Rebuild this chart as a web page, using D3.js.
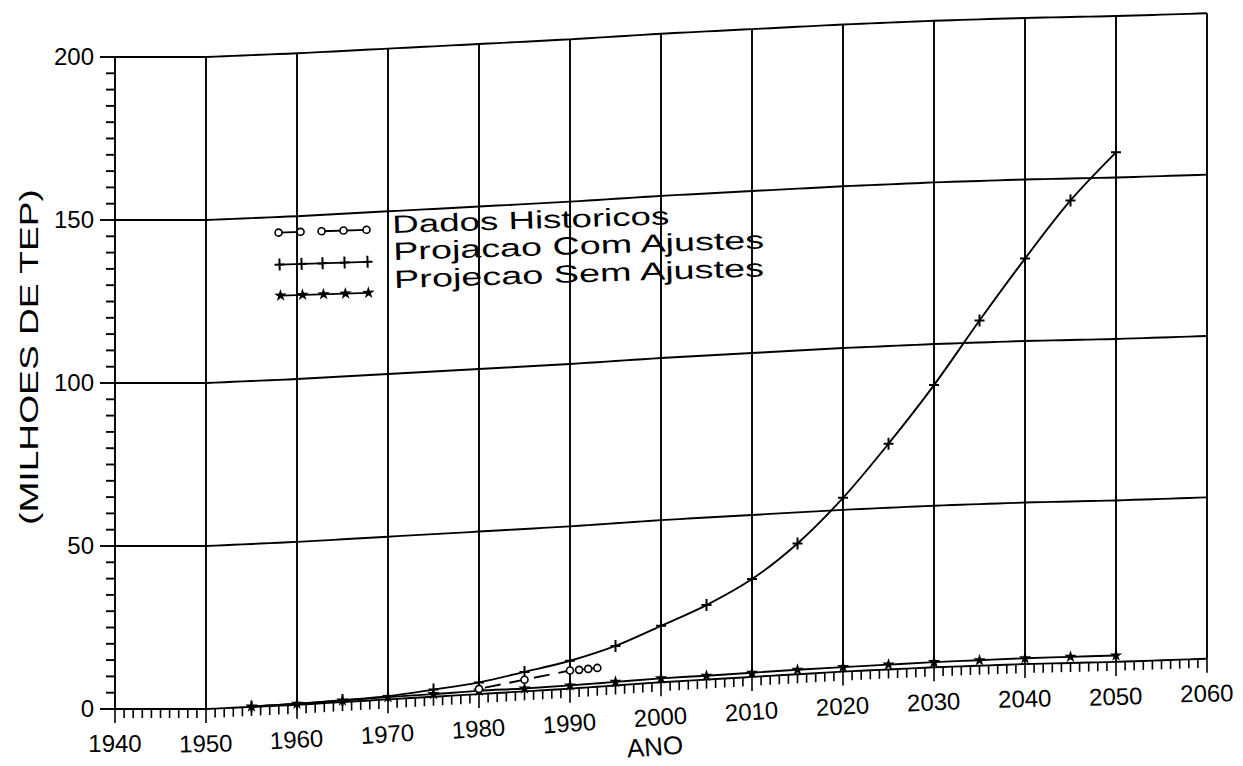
<!DOCTYPE html>
<html>
<head>
<meta charset="utf-8">
<script src="https://cdn.jsdelivr.net/npm/d3@7"></script>
<style>
body { margin: 0; background: #fff; }
svg { display: block; }
text { font-family: "Liberation Sans", Arial, sans-serif; fill: #000; }
</style>
</head>
<body>
<svg id="chart" width="1243" height="766"></svg>
<script>

//values
var years = [1955, 1960, 1965, 1970, 1975, 1980, 1985, 1990, 1995, 2000,
	2005, 2010, 2015, 2020, 2025, 2030, 2035, 2040, 2045, 2050];
var comAjustes = [0.1, 0.3, 0.6, 1.0, 2.2, 3.6, 6.0, 8.6, 12.2, 17.4,
	23.0, 30.2, 40.4, 53.7, 69.8, 87.3, 106.8, 125.5, 143.2, 157.8];
var semAjustes = [0.1, 0.3, 0.5, 0.7, 0.8, 1.0, 0.9, 1.0, 1.1, 1.2,
	1.2, 1.3, 1.4, 1.4, 1.5, 1.6, 1.7, 1.8, 1.9, 2.0];
var histYears = [1980, 1985, 1990, 1991, 1992, 1993];
var histValues = [1.6, 3.6, 5.6, 5.6, 5.7, 5.8];

var xTicks = [1940, 1950, 1960, 1970, 1980, 1990, 2000, 2010, 2020, 2030, 2040, 2050, 2060];
var yTicks = [0, 50, 100, 150, 200];
var legendLabels = ["Dados Historicos", "Projacao Com Ajustes", "Projecao Sem Ajustes"];

var svg = d3.select("#chart");

var x = d3.scaleLinear().domain([1940, 2060]).range([115, 1207]);
var y = d3.scaleLinear().domain([0, 200]).range([709, 57]);

//the scanned page is not square, horizontal lines drift upward to the right
//(a bit more at the bottom than at the top)
var tilt = d3.scaleLinear()
	.domain([115, 206, 298, 388, 480, 570, 661, 752, 844, 935, 1025, 1115, 1207])
	.range([0, 0, -4, -9, -14, -19, -25, -30, -35, -39, -42, -44, -47])
	.clamp(true);
var squeeze = d3.scaleLinear().domain([0, 200]).range([1.07, 0.93]);

function px(yr) { return x(yr); }
function py(yr, v) { return y(v) + tilt(x(yr)) * squeeze(v); }
function angle(yr, v) {
	var a = x(yr);
	return Math.atan2((tilt(a + 6) - tilt(a - 6)) * squeeze(v), 12) * 180 / Math.PI;
}

var line = d3.line()
	.x(function (d) { return px(d[0]); })
	.y(function (d) { return py(d[0], d[1]); });

var g = svg.append("g")
	.attr("fill", "none")
	.attr("stroke", "#000")
	.attr("stroke-width", 1.9);

//horizontal grid lines (0 is the axis, 200 the top border)
var fine = d3.range(1940, 2061, 1);
yTicks.forEach(function (v) {
	g.append("path")
		.attr("d", line(fine.map(function (yr) { return [yr, v]; })));
});

//vertical grid lines, the 1940 one is the y axis and 2060 the right border
xTicks.forEach(function (yr) {
	g.append("path").attr("d", line([[yr, 0], [yr, 200]]));
});

//y axis ticks
d3.range(0, 201, 5).forEach(function (v) {
	var len = v % 50 == 0 ? 15 : 9;
	g.append("line")
		.attr("x1", x(1940) - len).attr("x2", x(1940))
		.attr("y1", y(v)).attr("y2", y(v));
});

//x axis ticks, one per year hanging under the axis
d3.range(1940, 2061, 1).forEach(function (yr) {
	var len = yr % 10 == 0 ? 14 : 9;
	var y0 = py(yr, 0);
	g.append("line")
		.attr("x1", px(yr)).attr("x2", px(yr))
		.attr("y1", y0).attr("y2", y0 + len)
		.attr("stroke-width", 1.6);
});

//tick labels
svg.selectAll(".ylab")
	.data(yTicks)
	.enter()
	.append("text")
	.attr("class", "ylab")
	.attr("x", 94)
	.attr("y", function (d) { return y(d) + 8; })
	.attr("text-anchor", "end")
	.style("font-size", "24px")
	.text(function (d) { return d; });

svg.selectAll(".xlab")
	.data(xTicks)
	.enter()
	.append("text")
	.attr("class", "xlab")
	.attr("text-anchor", "middle")
	.attr("transform", function (d) {
		return "translate(" + px(d) + "," + (py(d, 0) + 43) + ") rotate(" + angle(d, 0) + ")";
	})
	.style("font-size", "24px")
	.text(function (d) { return d; });

//axis titles
svg.append("text")
	.attr("text-anchor", "middle")
	.attr("transform", "translate(" + (x(1999.4)) + "," + (py(1999.4, 0) + 73) + ") rotate(" + angle(1999.4, 0) + ")")
	.style("font-size", "26px")
	.text("ANO");

svg.append("text")
	.attr("text-anchor", "middle")
	.attr("transform", "translate(38,357) rotate(-90)")
	.attr("textLength", 336)
	.attr("lengthAdjust", "spacingAndGlyphs")
	.style("font-size", "26px")
	.text("(MILHOES DE TEP)");

//series
var comData = years.map(function (yr, i) { return [yr, comAjustes[i]]; });
var semData = years.map(function (yr, i) { return [yr, semAjustes[i]]; });
var histData = histYears.map(function (yr, i) { return [yr, histValues[i]]; });

var smooth = d3.line()
	.x(function (d) { return px(d[0]); })
	.y(function (d) { return py(d[0], d[1]); })
	.curve(d3.curveCatmullRom);

g.append("path").attr("d", smooth(semData));
g.append("path").attr("d", smooth(comData));
g.append("path")
	.attr("d", line(histData))
	.attr("stroke-dasharray", "16,9")
	.attr("stroke-dashoffset", -6);

var plus = "M-5,0H5M0,-6V6";
var star = d3.symbol().type(d3.symbolStar).size(48)();

svg.selectAll(".com")
	.data(comData)
	.enter()
	.append("path")
	.attr("class", "com")
	.attr("d", plus)
	.attr("transform", function (d) { return "translate(" + px(d[0]) + "," + py(d[0], d[1]) + ")"; })
	.attr("stroke", "#000")
	.attr("stroke-width", 2);

svg.selectAll(".sem")
	.data(semData)
	.enter()
	.append("path")
	.attr("class", "sem")
	.attr("d", star)
	.attr("transform", function (d) { return "translate(" + px(d[0]) + "," + py(d[0], d[1]) + ")"; })
	.attr("fill", "#000");

svg.selectAll(".hist")
	.data(histData)
	.enter()
	.append("circle")
	.attr("class", "hist")
	.attr("cx", function (d) { return px(d[0]); })
	.attr("cy", function (d) { return py(d[0], d[1]); })
	.attr("r", 3.5)
	.attr("fill", "#fff")
	.attr("stroke", "#000")
	.attr("stroke-width", 1.6);

//legend, slightly tilted like the rest of the scan
var legend = svg.append("g")
	.attr("transform", "rotate(-1.8,393,245)");

var sampleX = [279, 301, 322, 344, 367];
var sampleY = [229, 261, 292];
var baseY = [233, 260, 288];
var textLen = [277, 371, 370];

legend.selectAll(".ltext")
	.data(legendLabels)
	.enter()
	.append("text")
	.attr("x", 393)
	.attr("y", function (d, i) { return baseY[i]; })
	.attr("textLength", function (d, i) { return textLen[i]; })
	.attr("lengthAdjust", "spacingAndGlyphs")
	.style("font-size", "25px")
	.text(function (d) { return d; });

legend.append("line")
	.attr("x1", sampleX[0]).attr("x2", sampleX[4])
	.attr("y1", sampleY[0]).attr("y2", sampleY[0])
	.attr("stroke", "#000").attr("stroke-width", 1.8)
	.attr("stroke-dasharray", "22,21,45,0");
legend.append("line")
	.attr("x1", sampleX[0]).attr("x2", sampleX[4])
	.attr("y1", sampleY[1]).attr("y2", sampleY[1])
	.attr("stroke", "#000").attr("stroke-width", 1.8);
legend.append("line")
	.attr("x1", sampleX[0]).attr("x2", sampleX[4])
	.attr("y1", sampleY[2]).attr("y2", sampleY[2])
	.attr("stroke", "#000").attr("stroke-width", 1.8);

sampleX.forEach(function (sx) {
	legend.append("circle")
		.attr("cx", sx).attr("cy", sampleY[0]).attr("r", 3.5)
		.attr("fill", "#fff").attr("stroke", "#000").attr("stroke-width", 1.6);
	legend.append("path")
		.attr("d", plus)
		.attr("transform", "translate(" + sx + "," + sampleY[1] + ")")
		.attr("stroke", "#000").attr("stroke-width", 2);
	legend.append("path")
		.attr("d", star)
		.attr("transform", "translate(" + sx + "," + sampleY[2] + ")")
		.attr("fill", "#000");
});

</script>
</body>
</html>
